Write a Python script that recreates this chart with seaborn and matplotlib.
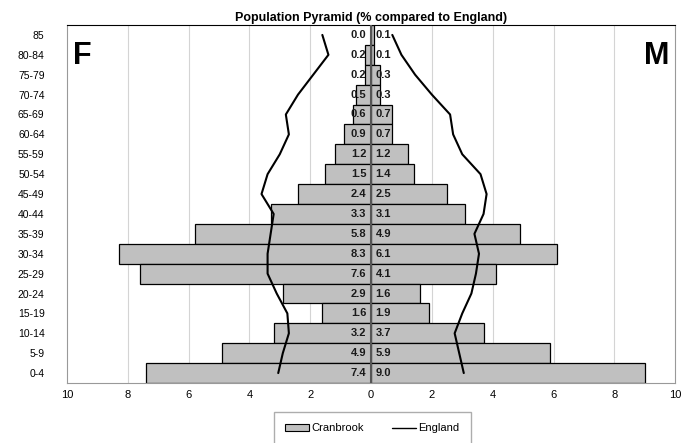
import numpy as np
import pandas as pd
import seaborn as sns
import matplotlib.pyplot as plt

# Age bands, top of the pyramid first.
ages = ['85', '80-84', '75-79', '70-74', '65-69', '60-64', '55-59', '50-54',
        '45-49', '40-44', '35-39', '30-34', '25-29', '20-24', '15-19',
        '10-14', '5-9', '0-4']
female = [0.0, 0.2, 0.2, 0.5, 0.6, 0.9, 1.2, 1.5, 2.4, 3.3, 5.8, 8.3, 7.6,
          2.9, 1.6, 3.2, 4.9, 7.4]
male = [0.1, 0.1, 0.3, 0.3, 0.7, 0.7, 1.2, 1.4, 2.5, 3.1, 4.9, 6.1, 4.1,
        1.6, 1.9, 3.7, 5.9, 9.0]
# England comparison.
eng_female = [1.6, 1.4, 1.9, 2.4, 2.8, 2.7, 3.0, 3.4, 3.6, 3.2, 3.3, 3.4,
              3.4, 3.1, 2.75, 2.7, 2.9, 3.05]
eng_male = [0.7, 1.0, 1.45, 2.0, 2.6, 2.7, 3.0, 3.6, 3.8, 3.7, 3.4, 3.55,
            3.45, 3.3, 3.0, 2.75, 2.9, 3.05]
ticks = [-10, -8, -6, -4, -2, 0, 2, 4, 6, 8, 10]

sns.set_style('white')
plt.rcParams['font.family'] = ['Liberation Sans', 'DejaVu Sans']
plt.rcParams['text.color'] = 'black'
plt.rcParams['xtick.color'] = 'black'
plt.rcParams['ytick.color'] = 'black'

df = pd.DataFrame({'age': ages, 'female': -np.array(female),
                   'male': np.array(male)})

fig = plt.figure(figsize=(6.82, 4.43), dpi=100)
ax = fig.add_axes([0.098, 0.1354, 0.892, 0.8082])

for col in ['female', 'male']:
    sns.barplot(data=df, x=col, y='age', orient='h', color='#c0c0c0',
                saturation=1, edgecolor='black', linewidth=0.9, width=1.0,
                ax=ax)

pos = np.arange(len(ages))
eng = pd.DataFrame({'pos': np.concatenate([pos, pos]),
                    'val': np.concatenate([-np.array(eng_female),
                                           np.array(eng_male)]),
                    'side': ['F'] * len(ages) + ['M'] * len(ages)})
sns.lineplot(data=eng, x='val', y='pos', units='side', estimator=None,
             sort=False, orient='y', color='black', linewidth=1.5, ax=ax)

# Value labels either side of the centre line.
for i in range(len(ages)):
    ax.text(-0.15, i, '{0:.1f}'.format(female[i]), ha='right', va='center',
            fontsize=8, fontweight='bold', color='#1a1a1a')
    ax.text(0.15, i, '{0:.1f}'.format(male[i]), ha='left', va='center',
            fontsize=8, fontweight='bold', color='#1a1a1a')

ax.axvline(0, color='#555555', linewidth=1.5, zorder=5)
for t in ticks[1:-1]:
    if t != 0:
        ax.axvline(t, color='#d4d4d4', linewidth=0.8, zorder=0)

ax.set_xlim(-10, 10)
ax.set_ylim(len(ages) - 0.5, -0.5)
ax.set_xticks(ticks)
ax.set_xticklabels([str(abs(t)) for t in ticks], fontsize=8)
ax.tick_params(axis='x', length=3, color='#888888', pad=2)
ax.tick_params(axis='y', length=0, labelsize=7.5, pad=16)
ax.set_xlabel('')
ax.set_ylabel('')
for s in ['left', 'right', 'bottom']:
    ax.spines[s].set_color('#999999')
ax.spines['top'].set_color('black')

ax.text(-9.8, 1.05, 'F', fontsize=22, fontweight='bold', ha='left',
        va='center', color='black')
ax.text(9.8, 1.05, 'M', fontsize=22, fontweight='bold', ha='right',
        va='center', color='black')
ax.set_title('Population Pyramid (% compared to England)', fontsize=9,
             fontweight='bold', pad=3, color='black')

handles = [plt.Rectangle((0, 0), 1, 1, facecolor='#c0c0c0',
                         edgecolor='black', linewidth=0.8),
           plt.Line2D([0], [0], color='black', linewidth=1)]
leg = fig.legend(handles, ['Cranbrook', 'England'], loc='upper center',
                 bbox_to_anchor=(0.546, 0.082), ncol=2, fontsize=8,
                 frameon=True, fancybox=False, handlelength=2.2,
                 handleheight=0.5, handletextpad=0.2, columnspacing=2.5,
                 borderpad=1.0)
leg.get_frame().set_edgecolor('#999999')

fig.savefig('out.png', dpi=100)
